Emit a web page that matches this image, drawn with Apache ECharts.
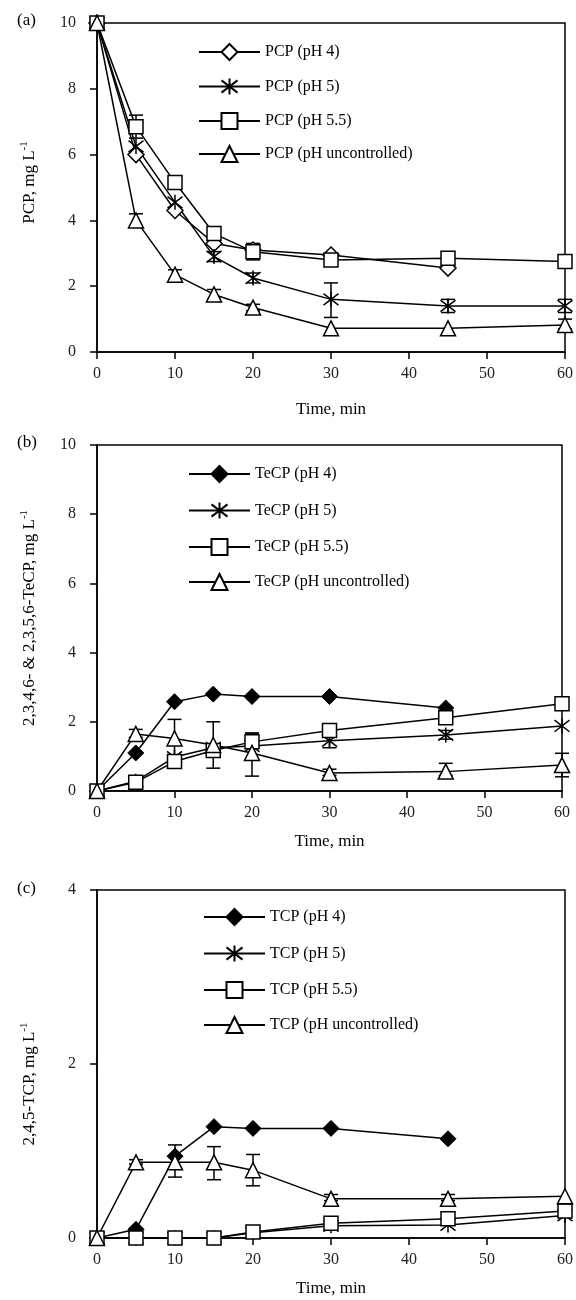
<!DOCTYPE html>
<html>
<head>
<meta charset="utf-8">
<script src="https://cdn.jsdelivr.net/npm/echarts@6/dist/echarts.min.js"></script>
<style>
  html, body { margin: 0; padding: 0; background: #fff; }
  #chart { width: 576px; height: 1300px; }
</style>
</head>
<body>
<div id="chart"></div>
<script>
// sampling times (min)
const times = [0, 5, 10, 15, 20, 30, 45, 60];

// (a) PCP, mg/L
const pcp4 = [10, 6.0, 4.3, 3.3, 3.1, 2.95, 2.55, null];
const pcp5 = [10, 6.25, 4.55, 2.9, 2.25, 1.6, 1.4, 1.4];
const pcp55 = [10, 6.85, 5.15, 3.6, 3.05, 2.8, 2.85, 2.75];
const pcpU = [10, 4.0, 2.35, 1.75, 1.35, 0.72, 0.72, 0.82];

// (b) TeCP, mg/L
const tecp4 = [0, 1.1, 2.58, 2.8, 2.73, 2.73, 2.4, null];
const tecp5 = [0, 0.28, 0.98, 1.25, 1.3, 1.45, 1.62, 1.88];
const tecp55 = [0, 0.25, 0.85, 1.17, 1.42, 1.75, 2.12, 2.52];
const tecpU = [0, 1.65, 1.52, 1.33, 1.1, 0.52, 0.56, 0.75];

// (c) TCP, mg/L
const tcp4 = [0, 0.1, 0.94, 1.28, 1.26, 1.26, 1.14, null];
const tcp5 = [0, 0, 0, 0, 0.06, 0.14, 0.15, 0.26];
const tcp55 = [0, 0, 0, 0, 0.07, 0.17, 0.22, 0.31];
const tcpU = [0, 0.87, 0.87, 0.87, 0.78, 0.45, 0.45, 0.48];

// error bars: [time, low, high]
const pcpErr = [
  [5, 6.5, 7.2], [10, 5.0, 5.3], [15, 3.45, 3.75], [45, 2.7, 3.0],
  [15, 2.75, 3.05], [20, 2.1, 2.4], [30, 1.05, 2.1], [45, 1.2, 1.6], [60, 1.2, 1.6],
  [20, 2.8, 3.3],
  [5, 3.8, 4.2], [10, 2.2, 2.5], [15, 1.6, 1.9], [20, 1.25, 1.45], [60, 0.7, 1.0]
];
const tecpErr = [
  [5, 1.55, 1.78], [10, 1.0, 2.07], [15, 0.66, 2.0], [20, 0.43, 1.65],
  [30, 0.45, 0.63], [45, 0.45, 0.8], [60, 0.41, 1.09],
  [30, 1.25, 1.65], [45, 1.5, 1.75], [20, 1.3, 1.68]
];
const tcpErr = [
  [5, 0.85, 0.9], [10, 0.7, 1.07], [15, 0.67, 1.05], [20, 0.6, 0.96],
  [30, 0.43, 0.5], [45, 0.43, 0.5]
];

const yMax = [10, 10, 4];
const FONT = 'Liberation Serif';
const starPath = 'path://M0,0L10,10M10,0L0,10M5,-1.5L5,11.5';

const openStyle = { color: '#fff', borderColor: '#000', borderWidth: 1.5 };
const markers = [
  { symbol: 'diamond', size: 16, itemStyle: openStyle },
  { symbol: starPath, size: 15, itemStyle: { color: 'none', borderColor: '#000', borderWidth: 1.5 } },
  { symbol: 'rect', size: 14, itemStyle: openStyle },
  { symbol: 'triangle', size: 15, itemStyle: openStyle }
];
const filledDiamond = { symbol: 'diamond', size: 16, itemStyle: { color: '#000', borderColor: '#000', borderWidth: 1 } };

const labels = ['(pH 4)', '(pH 5)', '(pH 5.5)', '(pH uncontrolled)'];
const panels = [
  { prefix: 'PCP', sets: [pcp4, pcp5, pcp55, pcpU], err: pcpErr, first: markers[0] },
  { prefix: 'TeCP', sets: [tecp4, tecp5, tecp55, tecpU], err: tecpErr, first: filledDiamond },
  { prefix: 'TCP', sets: [tcp4, tcp5, tcp55, tcpU], err: tcpErr, first: filledDiamond }
];

function pairs(vals) {
  return times.map((t, i) => [t, vals[i]]);
}

function errRender(params, api) {
  const lo = api.coord([api.value(0), api.value(1)]);
  const hi = api.coord([api.value(0), api.value(2)]);
  const w = 7;
  const st = { stroke: '#000', lineWidth: 1.5 };
  return {
    type: 'group',
    children: [
      { type: 'line', shape: { x1: lo[0], y1: lo[1], x2: hi[0], y2: hi[1] }, style: st },
      { type: 'line', shape: { x1: hi[0] - w, y1: hi[1], x2: hi[0] + w, y2: hi[1] }, style: st },
      { type: 'line', shape: { x1: lo[0] - w, y1: lo[1], x2: lo[0] + w, y2: lo[1] }, style: st }
    ]
  };
}

const grids = [
  { left: 97, top: 23, width: 471, height: 329 },
  { left: 97, top: 445, width: 465, height: 346 },
  { left: 97, top: 890, width: 478, height: 348 }
];
const legendPos = [
  { left: 193, top: 38, itemGap: 15 },
  { left: 183, top: 460, itemGap: 17 },
  { left: 198, top: 903, itemGap: 17 }
];
const yNames = ['PCP, mg L', '2,3,4,6- & 2,3,5,6-TeCP, mg L', '2,4,5-TCP, mg L'];
const yNamePad = [[0, 0, 0, 10], [0, 0, 0, 0], [0, 0, 0, -40]];
const xNameGap = [49, 42, 42];

const series = [];
const legends = [];
panels.forEach((p, k) => {
  const names = labels.map(l => p.prefix + ' ' + l);
  p.sets.forEach((vals, i) => {
    const m = i === 0 ? p.first : markers[i];
    series.push({
      name: names[i],
      type: 'line',
      xAxisIndex: k,
      yAxisIndex: k,
      data: pairs(vals),
      symbol: m.symbol,
      symbolSize: m.size,
      itemStyle: m.itemStyle,
      lineStyle: { color: '#000', width: 1.5 },
      color: '#000',
      z: 3
    });
  });
  series.push({
    name: p.prefix + ' error',
    type: 'custom',
    xAxisIndex: k,
    yAxisIndex: k,
    data: p.err,
    encode: { x: 0, y: [1, 2] },
    renderItem: errRender,
    z: 2
  });
  legends.push(Object.assign({
    data: names,
    orient: 'vertical',
    itemWidth: 61,
    itemHeight: 20,
    selectedMode: false,
    textStyle: { fontFamily: FONT, fontSize: 16, color: '#000' }
  }, legendPos[k]));
});

const chart = echarts.init(document.getElementById('chart'));
chart.setOption({
  animation: false,
  backgroundColor: '#fff',
  grid: grids.map(g => Object.assign({ show: true, borderColor: '#000', borderWidth: 1.5, backgroundColor: 'transparent' }, g)),
  legend: legends,
  xAxis: grids.map((g, k) => ({
    type: 'value',
    gridIndex: k,
    min: 0,
    max: 60,
    interval: 10,
    name: 'Time, min',
    nameLocation: 'middle',
    nameGap: xNameGap[k],
    nameTextStyle: { fontFamily: FONT, fontSize: 17, color: '#000' },
    axisLine: { lineStyle: { color: '#000', width: 1.5 } },
    axisTick: { show: true, inside: false, length: 7, lineStyle: { color: '#000', width: 1.5 } },
    axisLabel: { fontFamily: FONT, fontSize: 16, color: '#222', margin: 14 },
    splitLine: { show: false }
  })),
  yAxis: grids.map((g, k) => ({
    type: 'value',
    gridIndex: k,
    min: 0,
    max: yMax[k],
    interval: 2,
    name: '{t|' + yNames[k] + '}{s|-1}',
    nameLocation: 'middle',
    nameGap: 56,
    nameTextStyle: {
      fontFamily: FONT, fontSize: 17, color: '#000',
      padding: yNamePad[k],
      rich: {
        t: { fontFamily: FONT, fontSize: 17, color: '#000', lineHeight: 22 },
        s: { fontFamily: FONT, fontSize: 11, color: '#000', verticalAlign: 'top', lineHeight: 12 }
      }
    },
    axisLine: { show: true, lineStyle: { color: '#000', width: 1.5 } },
    axisTick: { show: true, inside: false, length: 7, lineStyle: { color: '#000', width: 1.5 } },
    axisLabel: { fontFamily: FONT, fontSize: 16, color: '#222', margin: 21 },
    splitLine: { show: false }
  })),
  graphic: [
    { type: 'text', left: 17, top: 12, style: { text: '(a)', font: '17px "Liberation Serif"', fill: '#000' } },
    { type: 'text', left: 17, top: 434, style: { text: '(b)', font: '17px "Liberation Serif"', fill: '#000' } },
    { type: 'text', left: 17, top: 880, style: { text: '(c)', font: '17px "Liberation Serif"', fill: '#000' } }
  ],
  series: series
});
</script>
</body>
</html>
